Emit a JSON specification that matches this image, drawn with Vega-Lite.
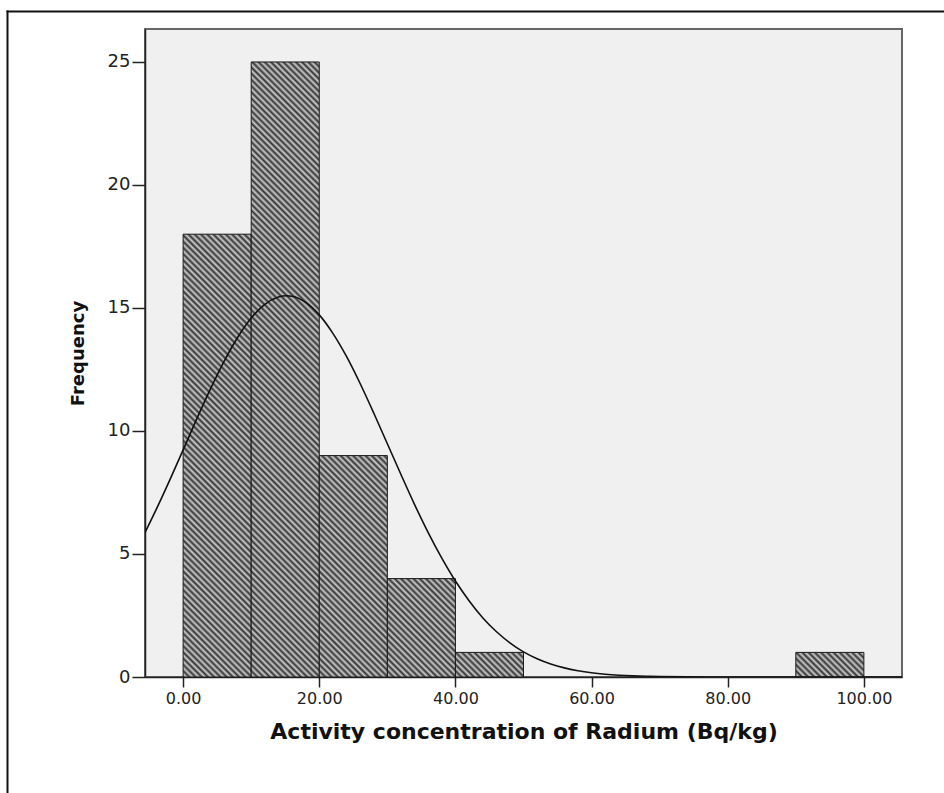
{
  "$schema": "https://vega.github.io/schema/vega-lite/v6.json",
  "width": 757,
  "height": 648,
  "autosize": {"type": "none"},
  "padding": {"left": 145, "top": 29, "right": 42, "bottom": 116},
  "background": "white",
  "config": {
    "font": "DejaVu Sans",
    "view": {"fill": "#f0f0f0", "stroke": "#666", "strokeWidth": 2}
  },
  "datasets": {
    "bins": [
      {"Ra": 0, "Ra_end": 10, "Frequency": 18},
      {"Ra": 10, "Ra_end": 20, "Frequency": 25},
      {"Ra": 20, "Ra_end": 30, "Frequency": 9},
      {"Ra": 30, "Ra_end": 40, "Frequency": 4},
      {"Ra": 40, "Ra_end": 50, "Frequency": 1},
      {"Ra": 90, "Ra_end": 100, "Frequency": 1}
    ],
    "curve": [
      {"Ra": -5.6, "Frequency": 5.87},
      {"Ra": -4, "Frequency": 6.78},
      {"Ra": -2, "Frequency": 7.98},
      {"Ra": 0, "Frequency": 9.23},
      {"Ra": 2, "Frequency": 10.49},
      {"Ra": 4, "Frequency": 11.7},
      {"Ra": 6, "Frequency": 12.82},
      {"Ra": 8, "Frequency": 13.8},
      {"Ra": 10, "Frequency": 14.59},
      {"Ra": 12, "Frequency": 15.15},
      {"Ra": 14, "Frequency": 15.45},
      {"Ra": 15.2, "Frequency": 15.5},
      {"Ra": 16, "Frequency": 15.48},
      {"Ra": 18, "Frequency": 15.23},
      {"Ra": 20, "Frequency": 14.72},
      {"Ra": 22, "Frequency": 13.97},
      {"Ra": 24, "Frequency": 13.03},
      {"Ra": 26, "Frequency": 11.93},
      {"Ra": 28, "Frequency": 10.73},
      {"Ra": 30, "Frequency": 9.48},
      {"Ra": 32, "Frequency": 8.23},
      {"Ra": 34, "Frequency": 7.01},
      {"Ra": 36, "Frequency": 5.87},
      {"Ra": 38, "Frequency": 4.83},
      {"Ra": 40, "Frequency": 3.9},
      {"Ra": 42, "Frequency": 3.1},
      {"Ra": 44, "Frequency": 2.41},
      {"Ra": 46, "Frequency": 1.85},
      {"Ra": 48, "Frequency": 1.39},
      {"Ra": 50, "Frequency": 1.02},
      {"Ra": 52, "Frequency": 0.743},
      {"Ra": 54, "Frequency": 0.529},
      {"Ra": 56, "Frequency": 0.37},
      {"Ra": 58, "Frequency": 0.255},
      {"Ra": 60, "Frequency": 0.172},
      {"Ra": 62, "Frequency": 0.114},
      {"Ra": 64, "Frequency": 0.074},
      {"Ra": 66, "Frequency": 0.047},
      {"Ra": 68, "Frequency": 0.03},
      {"Ra": 70, "Frequency": 0.018},
      {"Ra": 74, "Frequency": 0.0066},
      {"Ra": 78, "Frequency": 0.0022},
      {"Ra": 84, "Frequency": 0.0004},
      {"Ra": 92, "Frequency": 0},
      {"Ra": 105.6, "Frequency": 0}
    ]
  },
  "layer": [
    {
      "encoding": {
        "x": {
          "field": "Ra",
          "type": "quantitative",
          "scale": {"domain": [-5.6, 105.6], "nice": false, "zero": false},
          "axis": {
            "values": [0, 20, 40, 60, 80, 100],
            "format": ".2f",
            "title": "Activity concentration of Radium (Bq/kg)",
            "grid": false,
            "domainColor": "#222",
            "domainWidth": 1.5,
            "tickColor": "#222",
            "tickWidth": 1.5,
            "tickSize": 10,
            "labelFontSize": 16,
            "labelColor": "#222",
            "labelPadding": 3,
            "labelFlush": false,
            "titleFontSize": 22,
            "titleFontWeight": "bold",
            "titleColor": "#111",
            "titleBaseline": "alphabetic",
            "titleY": 61
          }
        },
        "y": {
          "field": "Frequency",
          "type": "quantitative",
          "scale": {"domain": [0, 26.34], "nice": false},
          "axis": {
            "orient": "left",
            "values": [0, 5, 10, 15, 20, 25],
            "title": "Frequency",
            "grid": false,
            "domainColor": "#222",
            "domainWidth": 1.5,
            "tickColor": "#222",
            "tickWidth": 1.5,
            "tickSize": 13,
            "labelFontSize": 18,
            "labelColor": "#222",
            "labelPadding": 2,
            "labelFlush": false,
            "titleFontSize": 18,
            "titleFontWeight": "bold",
            "titleColor": "#111",
            "titleBaseline": "alphabetic",
            "titleX": -62
          }
        }
      },
      "layer": [
        {
          "data": {"name": "bins"},
          "encoding": {"x2": {"field": "Ra_end"}, "y2": {"datum": 0}},
          "layer": [
            {
              "transform": [{"filter": "datum.Ra == 0"}],
              "mark": {"type": "bar", "stroke": "#1a1a1a", "strokeWidth": 1, "fill": {"gradient": "linear", "x1": 0, "y1": 1, "x2": 0.21104, "y2": -0.37282, "stops": [
                {"offset":0,"color":"#333"},{"offset":0.005,"color":"#ccc"},{"offset":0.01,"color":"#333"},{"offset":0.015,"color":"#ccc"},{"offset":0.02,"color":"#333"},{"offset":0.025,"color":"#ccc"},{"offset":0.03,"color":"#333"},{"offset":0.035,"color":"#ccc"},{"offset":0.04,"color":"#333"},{"offset":0.045,"color":"#ccc"},
                {"offset":0.05,"color":"#333"},{"offset":0.055,"color":"#ccc"},{"offset":0.06,"color":"#333"},{"offset":0.065,"color":"#ccc"},{"offset":0.07,"color":"#333"},{"offset":0.075,"color":"#ccc"},{"offset":0.08,"color":"#333"},{"offset":0.085,"color":"#ccc"},{"offset":0.09,"color":"#333"},{"offset":0.095,"color":"#ccc"},
                {"offset":0.1,"color":"#333"},{"offset":0.105,"color":"#ccc"},{"offset":0.11,"color":"#333"},{"offset":0.115,"color":"#ccc"},{"offset":0.12,"color":"#333"},{"offset":0.125,"color":"#ccc"},{"offset":0.13,"color":"#333"},{"offset":0.135,"color":"#ccc"},{"offset":0.14,"color":"#333"},{"offset":0.145,"color":"#ccc"},
                {"offset":0.15,"color":"#333"},{"offset":0.155,"color":"#ccc"},{"offset":0.16,"color":"#333"},{"offset":0.165,"color":"#ccc"},{"offset":0.17,"color":"#333"},{"offset":0.175,"color":"#ccc"},{"offset":0.18,"color":"#333"},{"offset":0.185,"color":"#ccc"},{"offset":0.19,"color":"#333"},{"offset":0.195,"color":"#ccc"},
                {"offset":0.2,"color":"#333"},{"offset":0.205,"color":"#ccc"},{"offset":0.21,"color":"#333"},{"offset":0.215,"color":"#ccc"},{"offset":0.22,"color":"#333"},{"offset":0.225,"color":"#ccc"},{"offset":0.23,"color":"#333"},{"offset":0.235,"color":"#ccc"},{"offset":0.24,"color":"#333"},{"offset":0.245,"color":"#ccc"},
                {"offset":0.25,"color":"#333"},{"offset":0.255,"color":"#ccc"},{"offset":0.26,"color":"#333"},{"offset":0.265,"color":"#ccc"},{"offset":0.27,"color":"#333"},{"offset":0.275,"color":"#ccc"},{"offset":0.28,"color":"#333"},{"offset":0.285,"color":"#ccc"},{"offset":0.29,"color":"#333"},{"offset":0.295,"color":"#ccc"},
                {"offset":0.3,"color":"#333"},{"offset":0.305,"color":"#ccc"},{"offset":0.31,"color":"#333"},{"offset":0.315,"color":"#ccc"},{"offset":0.32,"color":"#333"},{"offset":0.325,"color":"#ccc"},{"offset":0.33,"color":"#333"},{"offset":0.335,"color":"#ccc"},{"offset":0.34,"color":"#333"},{"offset":0.345,"color":"#ccc"},
                {"offset":0.35,"color":"#333"},{"offset":0.355,"color":"#ccc"},{"offset":0.36,"color":"#333"},{"offset":0.365,"color":"#ccc"},{"offset":0.37,"color":"#333"},{"offset":0.375,"color":"#ccc"},{"offset":0.38,"color":"#333"},{"offset":0.385,"color":"#ccc"},{"offset":0.39,"color":"#333"},{"offset":0.395,"color":"#ccc"},
                {"offset":0.4,"color":"#333"},{"offset":0.405,"color":"#ccc"},{"offset":0.41,"color":"#333"},{"offset":0.415,"color":"#ccc"},{"offset":0.42,"color":"#333"},{"offset":0.425,"color":"#ccc"},{"offset":0.43,"color":"#333"},{"offset":0.435,"color":"#ccc"},{"offset":0.44,"color":"#333"},{"offset":0.445,"color":"#ccc"},
                {"offset":0.45,"color":"#333"},{"offset":0.455,"color":"#ccc"},{"offset":0.46,"color":"#333"},{"offset":0.465,"color":"#ccc"},{"offset":0.47,"color":"#333"},{"offset":0.475,"color":"#ccc"},{"offset":0.48,"color":"#333"},{"offset":0.485,"color":"#ccc"},{"offset":0.49,"color":"#333"},{"offset":0.495,"color":"#ccc"},
                {"offset":0.5,"color":"#333"},{"offset":0.505,"color":"#ccc"},{"offset":0.51,"color":"#333"},{"offset":0.515,"color":"#ccc"},{"offset":0.52,"color":"#333"},{"offset":0.525,"color":"#ccc"},{"offset":0.53,"color":"#333"},{"offset":0.535,"color":"#ccc"},{"offset":0.54,"color":"#333"},{"offset":0.545,"color":"#ccc"},
                {"offset":0.55,"color":"#333"},{"offset":0.555,"color":"#ccc"},{"offset":0.56,"color":"#333"},{"offset":0.565,"color":"#ccc"},{"offset":0.57,"color":"#333"},{"offset":0.575,"color":"#ccc"},{"offset":0.58,"color":"#333"},{"offset":0.585,"color":"#ccc"},{"offset":0.59,"color":"#333"},{"offset":0.595,"color":"#ccc"},
                {"offset":0.6,"color":"#333"},{"offset":0.605,"color":"#ccc"},{"offset":0.61,"color":"#333"},{"offset":0.615,"color":"#ccc"},{"offset":0.62,"color":"#333"},{"offset":0.625,"color":"#ccc"},{"offset":0.63,"color":"#333"},{"offset":0.635,"color":"#ccc"},{"offset":0.64,"color":"#333"},{"offset":0.645,"color":"#ccc"},
                {"offset":0.65,"color":"#333"},{"offset":0.655,"color":"#ccc"},{"offset":0.66,"color":"#333"},{"offset":0.665,"color":"#ccc"},{"offset":0.67,"color":"#333"},{"offset":0.675,"color":"#ccc"},{"offset":0.68,"color":"#333"},{"offset":0.685,"color":"#ccc"},{"offset":0.69,"color":"#333"},{"offset":0.695,"color":"#ccc"},
                {"offset":0.7,"color":"#333"},{"offset":0.705,"color":"#ccc"},{"offset":0.71,"color":"#333"},{"offset":0.715,"color":"#ccc"},{"offset":0.72,"color":"#333"},{"offset":0.725,"color":"#ccc"},{"offset":0.73,"color":"#333"},{"offset":0.735,"color":"#ccc"},{"offset":0.74,"color":"#333"},{"offset":0.745,"color":"#ccc"},
                {"offset":0.75,"color":"#333"},{"offset":0.755,"color":"#ccc"},{"offset":0.76,"color":"#333"},{"offset":0.765,"color":"#ccc"},{"offset":0.77,"color":"#333"},{"offset":0.775,"color":"#ccc"},{"offset":0.78,"color":"#333"},{"offset":0.785,"color":"#ccc"},{"offset":0.79,"color":"#333"},{"offset":0.795,"color":"#ccc"},
                {"offset":0.8,"color":"#333"},{"offset":0.805,"color":"#ccc"},{"offset":0.81,"color":"#333"},{"offset":0.815,"color":"#ccc"},{"offset":0.82,"color":"#333"},{"offset":0.825,"color":"#ccc"}
              ]}}
            },
            {
              "transform": [{"filter": "datum.Ra == 10"}],
              "mark": {"type": "bar", "stroke": "#1a1a1a", "strokeWidth": 1, "fill": {"gradient": "linear", "x1": 0, "y1": 1, "x2": 0.13829, "y2": -0.24943, "stops": [
                {"offset":0,"color":"#333"},{"offset":0.004,"color":"#ccc"},{"offset":0.008,"color":"#333"},{"offset":0.012,"color":"#ccc"},{"offset":0.016,"color":"#333"},{"offset":0.02,"color":"#ccc"},{"offset":0.024,"color":"#333"},{"offset":0.028,"color":"#ccc"},{"offset":0.032,"color":"#333"},{"offset":0.036,"color":"#ccc"},
                {"offset":0.04,"color":"#333"},{"offset":0.044,"color":"#ccc"},{"offset":0.048,"color":"#333"},{"offset":0.052,"color":"#ccc"},{"offset":0.056,"color":"#333"},{"offset":0.06,"color":"#ccc"},{"offset":0.064,"color":"#333"},{"offset":0.068,"color":"#ccc"},{"offset":0.072,"color":"#333"},{"offset":0.076,"color":"#ccc"},
                {"offset":0.08,"color":"#333"},{"offset":0.084,"color":"#ccc"},{"offset":0.088,"color":"#333"},{"offset":0.092,"color":"#ccc"},{"offset":0.096,"color":"#333"},{"offset":0.1,"color":"#ccc"},{"offset":0.104,"color":"#333"},{"offset":0.108,"color":"#ccc"},{"offset":0.112,"color":"#333"},{"offset":0.116,"color":"#ccc"},
                {"offset":0.12,"color":"#333"},{"offset":0.124,"color":"#ccc"},{"offset":0.128,"color":"#333"},{"offset":0.132,"color":"#ccc"},{"offset":0.136,"color":"#333"},{"offset":0.14,"color":"#ccc"},{"offset":0.144,"color":"#333"},{"offset":0.148,"color":"#ccc"},{"offset":0.152,"color":"#333"},{"offset":0.156,"color":"#ccc"},
                {"offset":0.16,"color":"#333"},{"offset":0.164,"color":"#ccc"},{"offset":0.168,"color":"#333"},{"offset":0.172,"color":"#ccc"},{"offset":0.176,"color":"#333"},{"offset":0.18,"color":"#ccc"},{"offset":0.184,"color":"#333"},{"offset":0.188,"color":"#ccc"},{"offset":0.192,"color":"#333"},{"offset":0.196,"color":"#ccc"},
                {"offset":0.2,"color":"#333"},{"offset":0.204,"color":"#ccc"},{"offset":0.208,"color":"#333"},{"offset":0.212,"color":"#ccc"},{"offset":0.216,"color":"#333"},{"offset":0.22,"color":"#ccc"},{"offset":0.224,"color":"#333"},{"offset":0.228,"color":"#ccc"},{"offset":0.232,"color":"#333"},{"offset":0.236,"color":"#ccc"},
                {"offset":0.24,"color":"#333"},{"offset":0.244,"color":"#ccc"},{"offset":0.248,"color":"#333"},{"offset":0.252,"color":"#ccc"},{"offset":0.256,"color":"#333"},{"offset":0.26,"color":"#ccc"},{"offset":0.264,"color":"#333"},{"offset":0.268,"color":"#ccc"},{"offset":0.272,"color":"#333"},{"offset":0.276,"color":"#ccc"},
                {"offset":0.28,"color":"#333"},{"offset":0.284,"color":"#ccc"},{"offset":0.288,"color":"#333"},{"offset":0.292,"color":"#ccc"},{"offset":0.296,"color":"#333"},{"offset":0.3,"color":"#ccc"},{"offset":0.304,"color":"#333"},{"offset":0.308,"color":"#ccc"},{"offset":0.312,"color":"#333"},{"offset":0.316,"color":"#ccc"},
                {"offset":0.32,"color":"#333"},{"offset":0.324,"color":"#ccc"},{"offset":0.328,"color":"#333"},{"offset":0.332,"color":"#ccc"},{"offset":0.336,"color":"#333"},{"offset":0.34,"color":"#ccc"},{"offset":0.344,"color":"#333"},{"offset":0.348,"color":"#ccc"},{"offset":0.352,"color":"#333"},{"offset":0.356,"color":"#ccc"},
                {"offset":0.36,"color":"#333"},{"offset":0.364,"color":"#ccc"},{"offset":0.368,"color":"#333"},{"offset":0.372,"color":"#ccc"},{"offset":0.376,"color":"#333"},{"offset":0.38,"color":"#ccc"},{"offset":0.384,"color":"#333"},{"offset":0.388,"color":"#ccc"},{"offset":0.392,"color":"#333"},{"offset":0.396,"color":"#ccc"},
                {"offset":0.4,"color":"#333"},{"offset":0.404,"color":"#ccc"},{"offset":0.408,"color":"#333"},{"offset":0.412,"color":"#ccc"},{"offset":0.416,"color":"#333"},{"offset":0.42,"color":"#ccc"},{"offset":0.424,"color":"#333"},{"offset":0.428,"color":"#ccc"},{"offset":0.432,"color":"#333"},{"offset":0.436,"color":"#ccc"},
                {"offset":0.44,"color":"#333"},{"offset":0.444,"color":"#ccc"},{"offset":0.448,"color":"#333"},{"offset":0.452,"color":"#ccc"},{"offset":0.456,"color":"#333"},{"offset":0.46,"color":"#ccc"},{"offset":0.464,"color":"#333"},{"offset":0.468,"color":"#ccc"},{"offset":0.472,"color":"#333"},{"offset":0.476,"color":"#ccc"},
                {"offset":0.48,"color":"#333"},{"offset":0.484,"color":"#ccc"},{"offset":0.488,"color":"#333"},{"offset":0.492,"color":"#ccc"},{"offset":0.496,"color":"#333"},{"offset":0.5,"color":"#ccc"},{"offset":0.504,"color":"#333"},{"offset":0.508,"color":"#ccc"},{"offset":0.512,"color":"#333"},{"offset":0.516,"color":"#ccc"},
                {"offset":0.52,"color":"#333"},{"offset":0.524,"color":"#ccc"},{"offset":0.528,"color":"#333"},{"offset":0.532,"color":"#ccc"},{"offset":0.536,"color":"#333"},{"offset":0.54,"color":"#ccc"},{"offset":0.544,"color":"#333"},{"offset":0.548,"color":"#ccc"},{"offset":0.552,"color":"#333"},{"offset":0.556,"color":"#ccc"},
                {"offset":0.56,"color":"#333"},{"offset":0.564,"color":"#ccc"},{"offset":0.568,"color":"#333"},{"offset":0.572,"color":"#ccc"},{"offset":0.576,"color":"#333"},{"offset":0.58,"color":"#ccc"},{"offset":0.584,"color":"#333"},{"offset":0.588,"color":"#ccc"},{"offset":0.592,"color":"#333"},{"offset":0.596,"color":"#ccc"},
                {"offset":0.6,"color":"#333"},{"offset":0.604,"color":"#ccc"},{"offset":0.608,"color":"#333"},{"offset":0.612,"color":"#ccc"},{"offset":0.616,"color":"#333"},{"offset":0.62,"color":"#ccc"},{"offset":0.624,"color":"#333"},{"offset":0.628,"color":"#ccc"},{"offset":0.632,"color":"#333"},{"offset":0.636,"color":"#ccc"},
                {"offset":0.64,"color":"#333"},{"offset":0.644,"color":"#ccc"},{"offset":0.648,"color":"#333"},{"offset":0.652,"color":"#ccc"},{"offset":0.656,"color":"#333"},{"offset":0.66,"color":"#ccc"},{"offset":0.664,"color":"#333"},{"offset":0.668,"color":"#ccc"},{"offset":0.672,"color":"#333"},{"offset":0.676,"color":"#ccc"},
                {"offset":0.68,"color":"#333"},{"offset":0.684,"color":"#ccc"},{"offset":0.688,"color":"#333"},{"offset":0.692,"color":"#ccc"},{"offset":0.696,"color":"#333"},{"offset":0.7,"color":"#ccc"},{"offset":0.704,"color":"#333"},{"offset":0.708,"color":"#ccc"},{"offset":0.712,"color":"#333"},{"offset":0.716,"color":"#ccc"},
                {"offset":0.72,"color":"#333"},{"offset":0.724,"color":"#ccc"},{"offset":0.728,"color":"#333"},{"offset":0.732,"color":"#ccc"},{"offset":0.736,"color":"#333"},{"offset":0.74,"color":"#ccc"},{"offset":0.744,"color":"#333"},{"offset":0.748,"color":"#ccc"},{"offset":0.752,"color":"#333"},{"offset":0.756,"color":"#ccc"},
                {"offset":0.76,"color":"#333"},{"offset":0.764,"color":"#ccc"},{"offset":0.768,"color":"#333"},{"offset":0.772,"color":"#ccc"},{"offset":0.776,"color":"#333"},{"offset":0.78,"color":"#ccc"},{"offset":0.784,"color":"#333"},{"offset":0.788,"color":"#ccc"},{"offset":0.792,"color":"#333"},{"offset":0.796,"color":"#ccc"},
                {"offset":0.8,"color":"#333"},{"offset":0.804,"color":"#ccc"},{"offset":0.808,"color":"#333"},{"offset":0.812,"color":"#ccc"},{"offset":0.816,"color":"#333"},{"offset":0.82,"color":"#ccc"},{"offset":0.824,"color":"#333"},{"offset":0.828,"color":"#ccc"},{"offset":0.832,"color":"#333"},{"offset":0.836,"color":"#ccc"},
                {"offset":0.84,"color":"#333"},{"offset":0.844,"color":"#ccc"},{"offset":0.848,"color":"#333"},{"offset":0.852,"color":"#ccc"},{"offset":0.856,"color":"#333"},{"offset":0.86,"color":"#ccc"},{"offset":0.864,"color":"#333"},{"offset":0.868,"color":"#ccc"},{"offset":0.872,"color":"#333"},{"offset":0.876,"color":"#ccc"},
                {"offset":0.88,"color":"#333"}
              ]}}
            },
            {
              "transform": [{"filter": "datum.Ra == 20"}],
              "mark": {"type": "bar", "stroke": "#1a1a1a", "strokeWidth": 1, "fill": {"gradient": "linear", "x1": 0, "y1": 1, "x2": 0.39475, "y2": -0.28392, "stops": [
                {"offset":0,"color":"#333"},{"offset":0.01,"color":"#ccc"},{"offset":0.02,"color":"#333"},{"offset":0.03,"color":"#ccc"},{"offset":0.04,"color":"#333"},{"offset":0.05,"color":"#ccc"},{"offset":0.06,"color":"#333"},{"offset":0.07,"color":"#ccc"},{"offset":0.08,"color":"#333"},{"offset":0.09,"color":"#ccc"},
                {"offset":0.1,"color":"#333"},{"offset":0.11,"color":"#ccc"},{"offset":0.12,"color":"#333"},{"offset":0.13,"color":"#ccc"},{"offset":0.14,"color":"#333"},{"offset":0.15,"color":"#ccc"},{"offset":0.16,"color":"#333"},{"offset":0.17,"color":"#ccc"},{"offset":0.18,"color":"#333"},{"offset":0.19,"color":"#ccc"},
                {"offset":0.2,"color":"#333"},{"offset":0.21,"color":"#ccc"},{"offset":0.22,"color":"#333"},{"offset":0.23,"color":"#ccc"},{"offset":0.24,"color":"#333"},{"offset":0.25,"color":"#ccc"},{"offset":0.26,"color":"#333"},{"offset":0.27,"color":"#ccc"},{"offset":0.28,"color":"#333"},{"offset":0.29,"color":"#ccc"},
                {"offset":0.3,"color":"#333"},{"offset":0.31,"color":"#ccc"},{"offset":0.32,"color":"#333"},{"offset":0.33,"color":"#ccc"},{"offset":0.34,"color":"#333"},{"offset":0.35,"color":"#ccc"},{"offset":0.36,"color":"#333"},{"offset":0.37,"color":"#ccc"},{"offset":0.38,"color":"#333"},{"offset":0.39,"color":"#ccc"},
                {"offset":0.4,"color":"#333"},{"offset":0.41,"color":"#ccc"},{"offset":0.42,"color":"#333"},{"offset":0.43,"color":"#ccc"},{"offset":0.44,"color":"#333"},{"offset":0.45,"color":"#ccc"},{"offset":0.46,"color":"#333"},{"offset":0.47,"color":"#ccc"},{"offset":0.48,"color":"#333"},{"offset":0.49,"color":"#ccc"},
                {"offset":0.5,"color":"#333"},{"offset":0.51,"color":"#ccc"},{"offset":0.52,"color":"#333"},{"offset":0.53,"color":"#ccc"},{"offset":0.54,"color":"#333"},{"offset":0.55,"color":"#ccc"},{"offset":0.56,"color":"#333"},{"offset":0.57,"color":"#ccc"},{"offset":0.58,"color":"#333"},{"offset":0.59,"color":"#ccc"},
                {"offset":0.6,"color":"#333"},{"offset":0.61,"color":"#ccc"},{"offset":0.62,"color":"#333"},{"offset":0.63,"color":"#ccc"},{"offset":0.64,"color":"#333"},{"offset":0.65,"color":"#ccc"},{"offset":0.66,"color":"#333"},{"offset":0.67,"color":"#ccc"},{"offset":0.68,"color":"#333"},{"offset":0.69,"color":"#ccc"},
                {"offset":0.7,"color":"#333"},{"offset":0.71,"color":"#ccc"},{"offset":0.72,"color":"#333"},{"offset":0.73,"color":"#ccc"},{"offset":0.74,"color":"#333"},{"offset":0.75,"color":"#ccc"},{"offset":0.76,"color":"#333"},{"offset":0.77,"color":"#ccc"},{"offset":0.78,"color":"#333"},{"offset":0.79,"color":"#ccc"},
                {"offset":0.8,"color":"#333"},{"offset":0.81,"color":"#ccc"},{"offset":0.82,"color":"#333"},{"offset":0.83,"color":"#ccc"},{"offset":0.84,"color":"#333"},{"offset":0.85,"color":"#ccc"},{"offset":0.86,"color":"#333"},{"offset":0.87,"color":"#ccc"},{"offset":0.88,"color":"#333"},{"offset":0.89,"color":"#ccc"},
                {"offset":0.9,"color":"#333"},{"offset":0.91,"color":"#ccc"},{"offset":0.92,"color":"#333"},{"offset":0.93,"color":"#ccc"}
              ]}}
            },
            {
              "transform": [{"filter": "datum.Ra == 30"}],
              "mark": {"type": "bar", "stroke": "#1a1a1a", "strokeWidth": 1, "fill": {"gradient": "linear", "x1": 0, "y1": 1, "x2": 0.92459, "y2": -0.33657, "stops": [
                {"offset":0,"color":"#333"},{"offset":0.016,"color":"#ccc"},{"offset":0.032,"color":"#333"},{"offset":0.048,"color":"#ccc"},{"offset":0.064,"color":"#333"},{"offset":0.08,"color":"#ccc"},{"offset":0.096,"color":"#333"},{"offset":0.112,"color":"#ccc"},{"offset":0.128,"color":"#333"},{"offset":0.144,"color":"#ccc"},
                {"offset":0.16,"color":"#333"},{"offset":0.176,"color":"#ccc"},{"offset":0.192,"color":"#333"},{"offset":0.208,"color":"#ccc"},{"offset":0.224,"color":"#333"},{"offset":0.24,"color":"#ccc"},{"offset":0.256,"color":"#333"},{"offset":0.272,"color":"#ccc"},{"offset":0.288,"color":"#333"},{"offset":0.304,"color":"#ccc"},
                {"offset":0.32,"color":"#333"},{"offset":0.336,"color":"#ccc"},{"offset":0.352,"color":"#333"},{"offset":0.368,"color":"#ccc"},{"offset":0.384,"color":"#333"},{"offset":0.4,"color":"#ccc"},{"offset":0.416,"color":"#333"},{"offset":0.432,"color":"#ccc"},{"offset":0.448,"color":"#333"},{"offset":0.464,"color":"#ccc"},
                {"offset":0.48,"color":"#333"},{"offset":0.496,"color":"#ccc"},{"offset":0.512,"color":"#333"},{"offset":0.528,"color":"#ccc"},{"offset":0.544,"color":"#333"},{"offset":0.56,"color":"#ccc"},{"offset":0.576,"color":"#333"},{"offset":0.592,"color":"#ccc"},{"offset":0.608,"color":"#333"},{"offset":0.624,"color":"#ccc"},
                {"offset":0.64,"color":"#333"},{"offset":0.656,"color":"#ccc"},{"offset":0.672,"color":"#333"},{"offset":0.688,"color":"#ccc"},{"offset":0.704,"color":"#333"},{"offset":0.72,"color":"#ccc"},{"offset":0.736,"color":"#333"},{"offset":0.752,"color":"#ccc"},{"offset":0.768,"color":"#333"},{"offset":0.784,"color":"#ccc"},
                {"offset":0.8,"color":"#333"},{"offset":0.816,"color":"#ccc"},{"offset":0.832,"color":"#333"},{"offset":0.848,"color":"#ccc"},{"offset":0.864,"color":"#333"}
              ]}}
            },
            {
              "transform": [{"filter": "datum.Ra == 40 || datum.Ra == 90"}],
              "mark": {"type": "bar", "stroke": "#1a1a1a", "strokeWidth": 1, "fill": {"gradient": "linear", "x1": 0, "y1": 1, "x2": 1.34758, "y2": 0.51299, "stops": [
                {"offset":0,"color":"#333"},{"offset":0.03,"color":"#ccc"},{"offset":0.06,"color":"#333"},{"offset":0.09,"color":"#ccc"},{"offset":0.12,"color":"#333"},{"offset":0.15,"color":"#ccc"},{"offset":0.18,"color":"#333"},{"offset":0.21,"color":"#ccc"},{"offset":0.24,"color":"#333"},{"offset":0.27,"color":"#ccc"},
                {"offset":0.3,"color":"#333"},{"offset":0.33,"color":"#ccc"},{"offset":0.36,"color":"#333"},{"offset":0.39,"color":"#ccc"},{"offset":0.42,"color":"#333"},{"offset":0.45,"color":"#ccc"},{"offset":0.48,"color":"#333"},{"offset":0.51,"color":"#ccc"},{"offset":0.54,"color":"#333"},{"offset":0.57,"color":"#ccc"},
                {"offset":0.6,"color":"#333"},{"offset":0.63,"color":"#ccc"},{"offset":0.66,"color":"#333"},{"offset":0.69,"color":"#ccc"},{"offset":0.72,"color":"#333"},{"offset":0.75,"color":"#ccc"},{"offset":0.78,"color":"#333"},{"offset":0.81,"color":"#ccc"},{"offset":0.84,"color":"#333"},{"offset":0.87,"color":"#ccc"},
                {"offset":0.9,"color":"#333"}
              ]}}
            }
          ]
        },
        {
          "data": {"name": "curve"},
          "mark": {"type": "line", "color": "#111", "strokeWidth": 1.6, "interpolate": "monotone", "clip": true}
        }
      ]
    },
    {
      "data": {"name": "bins"},
      "mark": {"type": "point", "opacity": 0, "clip": true},
      "encoding": {
        "x": {
          "field": "Frequency",
          "type": "quantitative",
          "scale": {"domain": [0, 1], "range": [-138, 799], "nice": false, "zero": false},
          "axis": {"orient": "top", "offset": 18, "domainColor": "#111", "domainWidth": 2, "domainCap": "square", "ticks": false, "labels": false, "grid": false, "title": null}
        },
        "y": {
          "field": "Frequency",
          "type": "quantitative",
          "scale": {"domain": [0, 1], "range": [764, -18], "nice": false, "zero": false},
          "axis": {"orient": "left", "offset": 138, "domainColor": "#111", "domainWidth": 2, "domainCap": "square", "ticks": false, "labels": false, "grid": false, "title": null}
        }
      }
    }
  ],
  "resolve": {"scale": {"x": "independent", "y": "independent"}}
}
